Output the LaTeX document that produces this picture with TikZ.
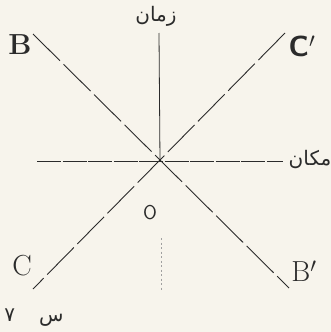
\documentclass[tikz,border=0pt]{standalone}
\usepackage{fontspec}
\newfontfamily\arabicfont[Script=Arabic]{DejaVu Sans}
\TeXXeTstate=1
\usetikzlibrary{positioning}
\definecolor{ink}{HTML}{2B2B2B}
\definecolor{paper}{HTML}{F7F4EC}
\tikzset{
  worldline/.style={ink, line width=0.9pt, dash pattern=on 38pt off 5pt},
  axisline/.style={ink, line width=0.8pt},
  spaceline/.style={ink, line width=0.8pt, dash pattern=on 24pt off 1.5pt},
  faint/.style={ink!45, line width=0.8pt, dash pattern=on 2pt off 2.5pt},
  ptlab/.style={ink, inner sep=0pt, font=\fontsize{29}{31}\selectfont},
  arlab/.style={ink, inner sep=0pt, font=\arabicfont\fontsize{20}{24}\selectfont},
}

\begin{document}
\begin{tikzpicture}[x=1pt,y=-1pt]

% ---- page ------------------------------------------------------------------
\fill[paper] (0,0) rectangle (331,332);
\useasboundingbox (0,0) rectangle (331,332);
% ---- line ends -------------------------------------------------------------
\coordinate (o)   at (160,161);
\coordinate (bE)  at (33,34);
\coordinate (bpE) at (289,288);
\coordinate (cpE) at (285,33);
\coordinate (cE)  at (33,289);
\coordinate (tTop) at (159,33);
\coordinate (xL)  at (37,161);
\coordinate (xR)  at (283,161);
\coordinate (dTop) at (161,238);
\coordinate (dBot) at (161,290);
% ---- labels ----------------------------------------------------------------
\node[ptlab, font=\bfseries\fontsize{29}{31}\selectfont] (B) at (20,45) {B};
\node[ptlab, font=\sffamily\bfseries\fontsize{29}{31}\selectfont] (Cp) at (302,46) {C$'$};
\node[ptlab] (C)  at (22,266) {C};
\node[ptlab] (Bp) at (304,271) {B$'$};
\node[ink, inner sep=0pt, font=\sffamily\fontsize{20}{22}\selectfont] (O) at (150,213) {O};
\node[arlab] (time)  at (156,16) {\beginR زمان\endR};
\node[arlab] (space) at (310,160) {\beginR مكان\endR};
\node[arlab] (fig)   at (34,318) {\beginR س\hspace{24pt}۷\endR};
% ---- axes ------------------------------------------------------------------
\draw[axisline] (tTop) -- (o);
\draw[faint] (dTop) -- (dBot);
\draw[spaceline] (xL) -- (xR);
% ---- diagonals -------------------------------------------------------------
\draw[worldline] (bE) -- (bpE);
\draw[worldline] (cpE) -- (cE);

\end{tikzpicture}
\end{document}
